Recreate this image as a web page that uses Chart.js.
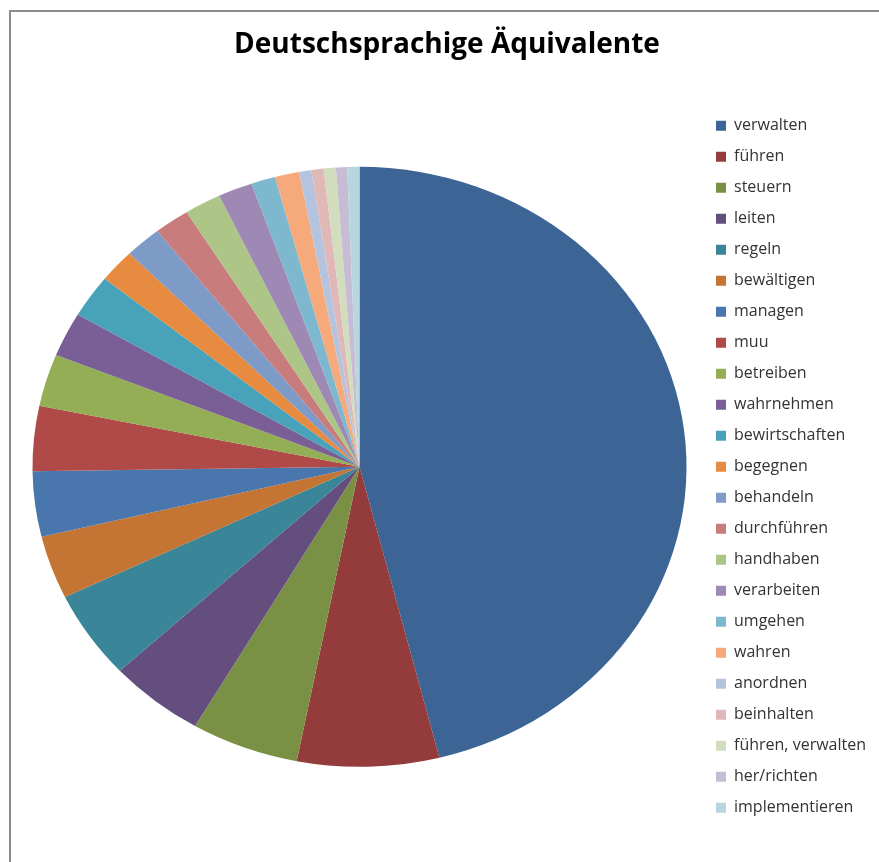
<!DOCTYPE html>
<html>
<head>
<meta charset="utf-8">
<script src="https://cdn.jsdelivr.net/npm/chart.js@4/dist/chart.umd.min.js"></script>
<style>
  html, body { margin: 0; padding: 0; background: #fff; }
  #wrap { position: relative; width: 879px; height: 862px; }
</style>
</head>
<body>
<div id="wrap"><canvas id="grafico" width="879" height="862"></canvas></div>
<script>
const begriffe = ['verwalten', 'führen', 'steuern', 'leiten', 'regeln', 'bewältigen', 'managen', 'muu',
    'betreiben', 'wahrnehmen', 'bewirtschaften', 'begegnen', 'behandeln', 'durchführen', 'handhaben',
    'verarbeiten', 'umgehen', 'wahren', 'anordnen', 'beinhalten', 'führen, verwalten', 'her/richten', 'implementieren'];
// Anteile in Prozent
const anteile = [46, 7, 5.3, 4.7, 4.75, 3.4, 3.5, 3.5, 2.8, 2.4, 2.3, 1.8, 1.8, 1.75, 1.8, 1.7,
    1.2, 1.2, 0.6, 0.6, 0.6, 0.55, 0.6];
const farben = ['#3c6495', '#943c3b', '#7a9145', '#644e7e', '#3a8598', '#c47433', '#4a76ae', '#b04a48',
    '#93ae55', '#7a5e96', '#48a2ba', '#e68b40', '#7e9ac6', '#c87c7b', '#adc586', '#9d89b3', '#7eb8ce',
    '#f6a97a', '#b4c4de', '#dfb8b7', '#d1ddbd', '#c6bdd5', '#b8d6e0'];

// Kreis leicht gestaucht zeichnen, Rahmen oben/links
const extras = {
    id: 'extras',
    beforeDatasetsDraw(chart) {
        const ctx = chart.ctx;
        const cy = (chart.chartArea.top + chart.chartArea.bottom) / 2;
        ctx.save();
        ctx.translate(0, cy);
        ctx.scale(1, 300 / 327);
        ctx.translate(0, -cy);
    },
    afterDatasetsDraw(chart) {
        chart.ctx.restore();
    },
    afterDraw(chart) {
        const ctx = chart.ctx;
        ctx.save();
        ctx.strokeStyle = '#8c8c8c';
        ctx.lineWidth = 2;
        ctx.beginPath();
        ctx.moveTo(10, 862);
        ctx.lineTo(10, 11);
        ctx.lineTo(879, 11);
        ctx.stroke();
        ctx.restore();
    }
};

new Chart(document.getElementById('grafico').getContext('2d'), {
    type: 'pie',
    data: {
        labels: begriffe,
        datasets: [{
            data: anteile,
            backgroundColor: farben,
            borderWidth: 0
        }]
    },
    options: {
        responsive: false,
        animation: false,
        radius: 327,
        layout: { padding: { left: 18, right: 3, top: 0, bottom: 29 } },
        plugins: {
            title: {
                display: true,
                text: 'Deutschsprachige Äquivalente',
                color: '#000',
                font: { family: 'Open Sans', size: 28, weight: 'bold' },
                padding: { top: 28, bottom: 39 }
            },
            legend: {
                position: 'right',
                fullSize: false,
                labels: {
                    boxWidth: 10,
                    boxHeight: 10,
                    padding: 15,
                    color: '#333',
                    font: { family: 'Open Sans', size: 16 }
                }
            },
            tooltip: { enabled: false }
        }
    },
    plugins: [extras]
});
</script>
</body>
</html>
